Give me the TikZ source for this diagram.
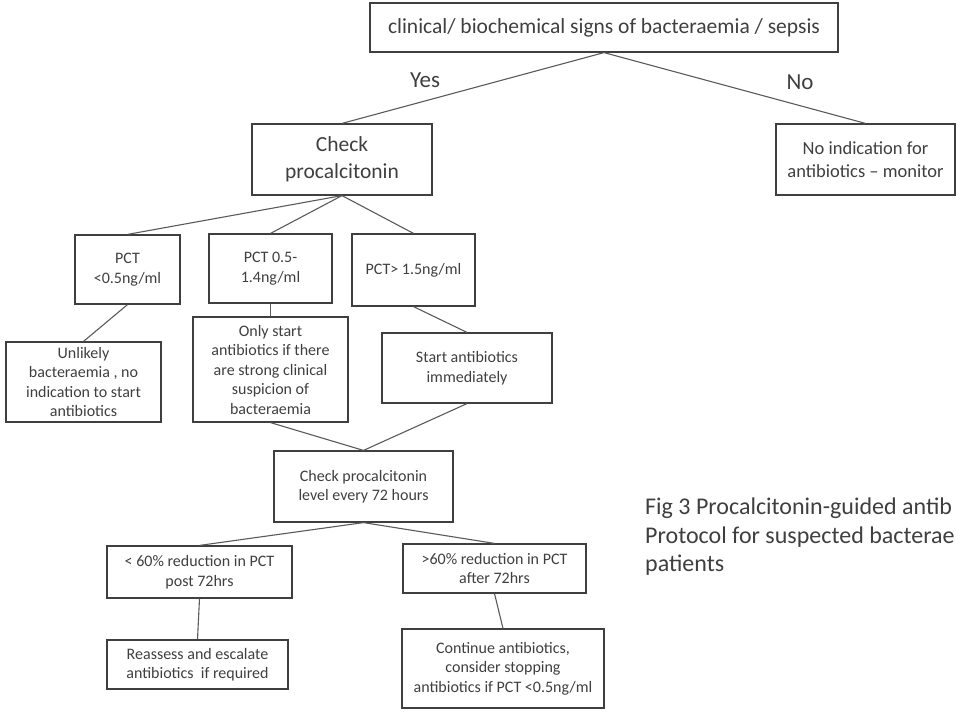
\documentclass[tikz,border=0pt]{standalone}
\usepackage{fontspec}
\setmainfont{Carlito}
\usetikzlibrary{positioning}
\definecolor{inkgray}{HTML}{3F3F3F}
\definecolor{linegray}{HTML}{5A5A5A}

\begin{document}
\begin{tikzpicture}[x=1pt, y=-1pt,
    every node/.style={text=inkgray, align=center, inner sep=0pt},
    bigbox/.style={draw=inkgray, line width=1.2pt, font=\fontsize{21.5}{27}\selectfont},
    smallbox/.style={draw=inkgray, line width=1.2pt, font=\fontsize{16}{19.5}\selectfont},
    link/.style={draw=linegray, line width=1.1pt}]
\useasboundingbox (0,0) rectangle (958,712);

% first question
\node[bigbox, minimum width=468, minimum height=49] (signs) at (604,27.5) {clinical/ biochemical signs of bacteraemia / sepsis};
\node[font=\fontsize{23}{26}\selectfont] (yes) at (425,80) {Yes};
\node[font=\fontsize{23}{26}\selectfont] (no) at (800,82) {No};
\node[bigbox, minimum width=180, minimum height=71] (check) at (342,159.5) {Check\\procalcitonin};
\node[bigbox, minimum width=179, minimum height=71, font=\fontsize{18.5}{23}\selectfont] (noind) at (865.5,159.5) {No indication for\\antibiotics -- monitor};

% PCT levels
\node[smallbox, minimum width=105, minimum height=69] (pctlow) at (127.5,269.5) {PCT\\<0.5ng/ml};
\node[smallbox, minimum width=123, minimum height=69] (pctmid) at (270.5,268.5) {PCT 0.5-\\1.4ng/ml};
\node[smallbox, minimum width=123, minimum height=72] (pcthigh) at (413.5,270) {PCT> 1.5ng/ml};
\node[smallbox, minimum width=155, minimum height=80] (unlikely) at (83.5,382) {Unlikely\\bacteraemia , no\\indication to start\\antibiotics};
\node[smallbox, minimum width=155, minimum height=105] (onlystart) at (270.5,369.5) {Only start\\antibiotics if there\\are strong clinical\\suspicion of\\bacteraemia};
\node[smallbox, minimum width=170, minimum height=70] (startab) at (467,368) {Start antibiotics\\immediately};

% follow up
\node[smallbox, minimum width=179, minimum height=71] (recheck) at (363.5,486.5) {Check procalcitonin\\level every 72 hours};
\node[smallbox, minimum width=185, minimum height=52] (lessred) at (199.5,572) {< 60\% reduction in PCT\\post 72hrs};
\node[smallbox, minimum width=183, minimum height=49] (morered) at (494.5,568.5) {>60\% reduction in PCT\\after 72hrs};
\node[smallbox, minimum width=181, minimum height=49] (reassess) at (197.5,664.5) {Reassess and escalate\\antibiotics~ if required};
\node[smallbox, minimum width=202, minimum height=79] (continue) at (503,668.5) {Continue antibiotics,\\consider stopping\\antibiotics if PCT <0.5ng/ml};

\node[anchor=west, align=left, font=\fontsize{24}{28.5}\selectfont] (caption) at (645,537) {Fig 3 Procalcitonin-guided antib\\Protocol for suspected bacterae\\patients};

\draw[link] (signs.south) -- (check.north);
\draw[link] (signs.south) -- (noind.north);
\foreach \n in {pctlow, pctmid, pcthigh}
  \draw[link] (check.south) -- (\n.north);
\draw[link] (pctlow.south) -- (unlikely.north);
\draw[link] (pctmid.south) -- (onlystart.north);
\draw[link] (pcthigh.south) -- (startab.north);
\draw[link] (onlystart.south) -- (recheck.north);
\draw[link] (startab.south) -- (recheck.north);
\draw[link] (recheck.south) -- (lessred.north);
\draw[link] (recheck.south) -- (morered.north);
\draw[link] (lessred.south) -- (reassess.north);
\draw[link] (morered.south) -- (continue.north);
\end{tikzpicture}
\end{document}
